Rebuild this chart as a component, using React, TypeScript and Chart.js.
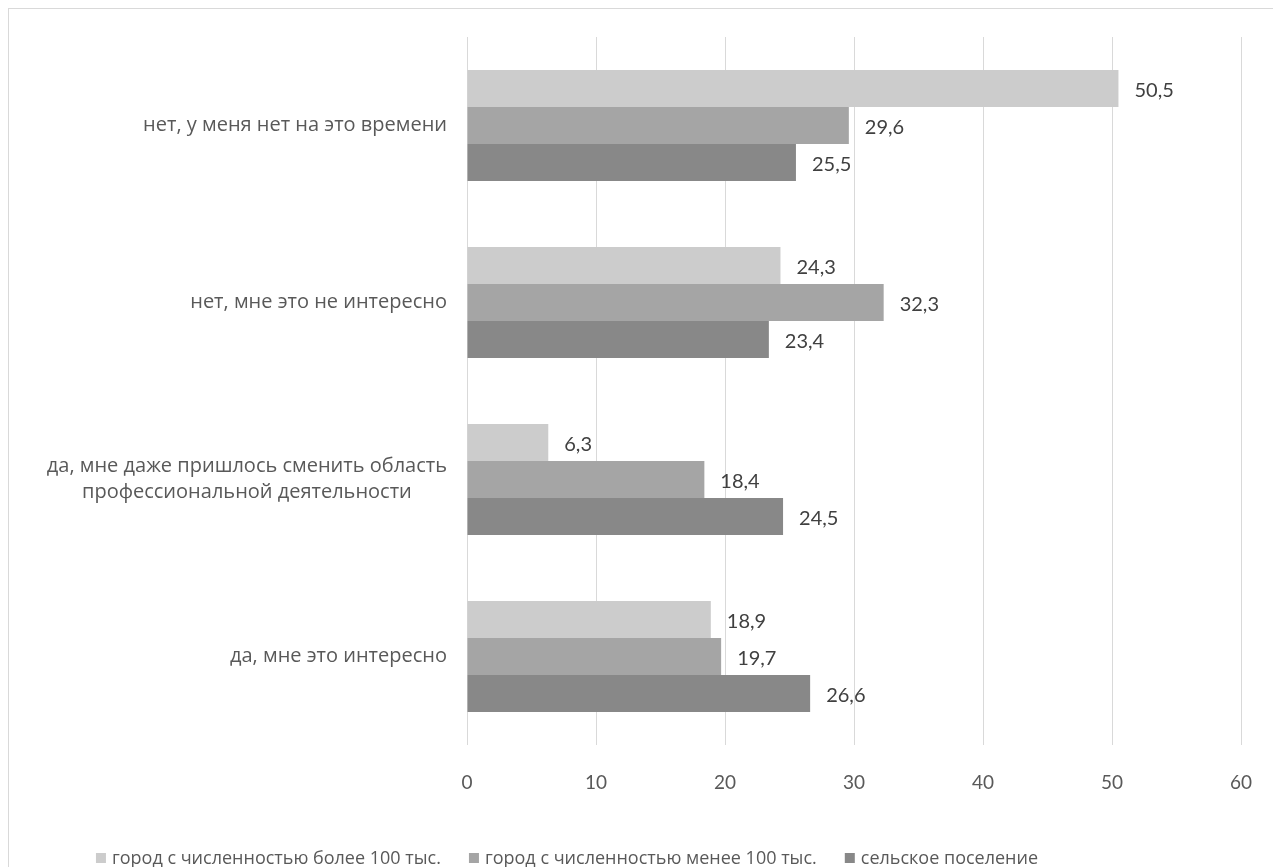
import React, { useEffect, useRef } from "react";
import { Chart, registerables } from "chart.js";

Chart.register(...registerables);

const categories: (string | string[])[] = [
  "нет, у меня нет на это времени",
  "нет, мне это не интересно",
  ["да, мне даже пришлось сменить область", "профессиональной деятельности"],
  "да, мне это интересно",
];
const seriesNames = [
  "город с численностью более 100 тыс.",
  "город с численностью менее 100 тыс.",
  "сельское поселение",
];
const bigCity = [50.5, 24.3, 6.3, 18.9];
const smallCity = [29.6, 32.3, 18.4, 19.7];
const rural = [25.5, 23.4, 24.5, 26.6];
const seriesColors = ["#cccccc", "#a5a5a5", "#888888"];
const xTicks = [0, 10, 20, 30, 40, 50, 60];

const LABEL_FONT = "20px 'Open Sans'";
const LEGEND_FONT = "18px 'Open Sans'";
const NUM_FONT = "20px Lato";

const customDraw = {
  id: "customDraw",
  afterDatasetsDraw(chart: any) {
    const ctx = chart.ctx as CanvasRenderingContext2D;
    ctx.save();
    // data labels
    ctx.font = NUM_FONT;
    ctx.fillStyle = "#404040";
    ctx.textAlign = "left";
    ctx.textBaseline = "middle";
    chart.data.datasets.forEach((ds: any, di: number) => {
      const meta = chart.getDatasetMeta(di);
      meta.data.forEach((bar: any, i: number) => {
        const v = ds.data[i] as number;
        ctx.fillText(v.toFixed(1).replace(".", ","), bar.x + 16, bar.y + 2);
      });
    });
    // category labels
    const yScale = chart.scales.y;
    const rightEdge = chart.chartArea.left - 20;
    ctx.font = LABEL_FONT;
    ctx.fillStyle = "#595959";
    categories.forEach((c, i) => {
      const lines = Array.isArray(c) ? c : [c];
      const widths = lines.map((l) => ctx.measureText(l).width);
      const w = Math.max(...widths);
      const cx = rightEdge - w / 2;
      const yc = yScale.getPixelForValue(i);
      const lh = 26;
      ctx.textAlign = "center";
      lines.forEach((l, li) => {
        const y = yc + (li - (lines.length - 1) / 2) * lh;
        ctx.fillText(l, cx, y);
      });
    });
    // legend
    ctx.font = LEGEND_FONT;
    ctx.textAlign = "left";
    const box = 10;
    const gapBoxText = 6;
    const gapItems = 28;
    const items = chart.data.datasets.map((ds: any) => ({
      label: ds.label as string,
      color: ds.backgroundColor as string,
      w: box + gapBoxText + ctx.measureText(ds.label).width,
    }));
    const total = items.reduce((s: number, it: any) => s + it.w, 0) + gapItems * (items.length - 1);
    let x = 558 - total / 2;
    const ly = 849;
    items.forEach((it: any) => {
      ctx.fillStyle = it.color;
      ctx.fillRect(x, ly - box / 2, box, box);
      ctx.fillStyle = "#595959";
      ctx.fillText(it.label, x + box + gapBoxText, ly + 1);
      x += it.w + gapItems;
    });
    ctx.restore();
  },
};

export default function App() {
  const ref = useRef<HTMLCanvasElement | null>(null);
  useEffect(() => {
    if (!ref.current) return;
    const chart = new Chart(ref.current, {
      type: "bar",
      data: {
        labels: categories.map((c) => (Array.isArray(c) ? c.join(" ") : c)),
        datasets: [
          { label: seriesNames[0], data: bigCity, backgroundColor: seriesColors[0] },
          { label: seriesNames[1], data: smallCity, backgroundColor: seriesColors[1] },
          { label: seriesNames[2], data: rural, backgroundColor: seriesColors[2] },
        ],
      },
      options: {
        indexAxis: "y",
        animation: false,
        responsive: false,
        events: [],
        layout: { padding: { top: 28, right: 32, left: 0, bottom: 0 } },
        datasets: { bar: { categoryPercentage: 0.627, barPercentage: 1.0 } },
        plugins: { legend: { display: false }, tooltip: { enabled: false } },
        scales: {
          x: {
            min: 0,
            max: 60,
            afterBuildTicks: (scale: any) => {
              scale.ticks = xTicks.map((v) => ({ value: v }));
            },
            afterFit: (scale: any) => {
              scale.height = 122;
              scale.paddingLeft = 0;
              scale.paddingRight = 0;
            },
            grid: { color: "#d9d9d9", drawTicks: false, lineWidth: 1 },
            border: { display: false },
            ticks: {
              padding: 26,
              color: "#595959",
              font: { family: "Lato", size: 19 },
            },
          },
          y: {
            afterFit: (scale: any) => {
              scale.width = 458;
              scale.paddingTop = 0;
              scale.paddingBottom = 0;
            },
            grid: { display: false, drawTicks: false },
            border: { display: false },
            ticks: { display: false },
          },
        },
      },
      plugins: [customDraw],
    });
    return () => chart.destroy();
  }, []);
  return (
    <div style={{ position: "fixed", left: 0, top: 0, width: 1273, height: 867, overflow: "hidden", background: "#fff" }}>
      <div
        style={{
          position: "absolute",
          left: 8,
          top: 8,
          width: 1300,
          height: 900,
          border: "1px solid #d9d9d9",
        }}
      >
        <canvas ref={ref} width={1264} height={858} style={{ display: "block", width: 1264, height: 858 }} />
      </div>
    </div>
  );
}
